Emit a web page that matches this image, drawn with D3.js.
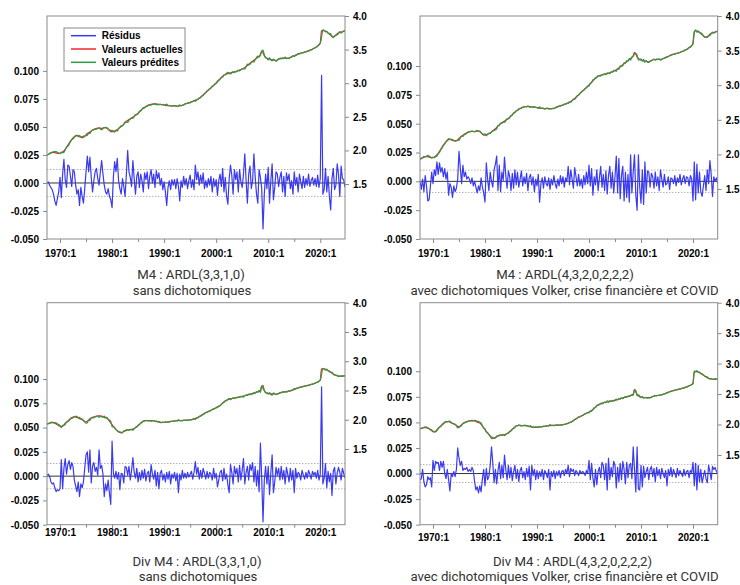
<!DOCTYPE html>
<html>
<head>
<meta charset="utf-8">
<script src="https://cdn.jsdelivr.net/npm/d3@7"></script>
<style>
  body { margin: 0; background: #ffffff; }
  svg { display: block; }
</style>
</head>
<body>
<svg id="chart" width="740" height="585"></svg>
<script>
// ---- Sample: quarterly, 1967Q3 .. 2024Q4 ----
const firstYear = 1967;
const firstQuarter = 3;

// Axis ticks and labels
const yearTicks = [1970, 1980, 1990, 2000, 2010, 2020];
const yearTickLabels = ["1970:1", "1980:1", "1990:1", "2000:1", "2010:1", "2020:1"];
const yearMinorTicks = [1975, 1985, 1995, 2005, 2015];
const residTicks = [-0.05, -0.025, 0, 0.025, 0.05, 0.075, 0.1];
const levelTicks = [1.5, 2.0, 2.5, 3.0, 3.5, 4.0];

// Actual values, M4 (log level)
const m4Actual = [
  1.930, 1.940,
  1.952, 1.962, 1.968, 1.970,  1.968, 1.962, 1.958, 1.955,
  1.956, 1.962, 1.975, 1.992,  2.015, 2.045, 2.075, 2.105,
  2.135, 2.160, 2.185, 2.205,  2.215, 2.218, 2.212, 2.202,
  2.198, 2.192, 2.195, 2.210,  2.230, 2.250, 2.262, 2.275,
  2.290, 2.300, 2.312, 2.322,  2.328, 2.330, 2.335, 2.330,
  2.328, 2.332, 2.338, 2.335,  2.330, 2.315, 2.295, 2.280,
  2.278, 2.285, 2.292, 2.300,  2.310, 2.325, 2.340, 2.355,
  2.370, 2.390, 2.410, 2.430,  2.445, 2.458, 2.470, 2.482,
  2.495, 2.508, 2.522, 2.538,  2.555, 2.575, 2.595, 2.612,
  2.628, 2.640, 2.655, 2.665,  2.672, 2.680, 2.686, 2.690,
  2.692, 2.693, 2.690, 2.688,  2.686, 2.684, 2.682, 2.680,
  2.676, 2.672, 2.668, 2.665,  2.668, 2.662, 2.660, 2.663,
  2.665, 2.660, 2.658, 2.661,  2.663, 2.666, 2.672, 2.680,
  2.690, 2.698, 2.703, 2.708,  2.715, 2.722, 2.730, 2.738,
  2.746, 2.755, 2.765, 2.778,  2.792, 2.808, 2.825, 2.843,
  2.862, 2.880, 2.898, 2.915,  2.932, 2.950, 2.968, 2.985,
  3.002, 3.022, 3.045, 3.065,  3.085, 3.102, 3.118, 3.130,
  3.138, 3.144, 3.150, 3.155,  3.160, 3.163, 3.168, 3.175,
  3.180, 3.187, 3.195, 3.203,  3.212, 3.222, 3.235, 3.250,
  3.265, 3.280, 3.295, 3.310,  3.325, 3.340, 3.355, 3.370,
  3.385, 3.400, 3.425, 3.475,  3.450, 3.410, 3.385, 3.370,
  3.362, 3.358, 3.352, 3.348,  3.345, 3.340, 3.338, 3.345,
  3.358, 3.368, 3.372, 3.370,  3.372, 3.375, 3.373, 3.372,
  3.375, 3.382, 3.392, 3.400,  3.408, 3.415, 3.425, 3.435,
  3.442, 3.448, 3.452, 3.458,  3.462, 3.468, 3.475, 3.482,
  3.490, 3.498, 3.508, 3.518,  3.528, 3.540, 3.555, 3.572,
  3.600, 3.780, 3.785, 3.780,  3.775, 3.765, 3.748, 3.730,
  3.712, 3.698, 3.692, 3.698,  3.715, 3.735, 3.750, 3.755,
  3.760, 3.768, 3.775, 3.782
];

// Actual values, Div M4 (log level)
const divM4Actual = [
  1.927, 1.935,
  1.942, 1.948, 1.950, 1.946,  1.940, 1.930, 1.915, 1.900,
  1.890, 1.882, 1.890, 1.910,  1.940, 1.958, 1.978, 2.000,
  2.020, 2.035, 2.045, 2.048,  2.046, 2.040, 2.030, 2.018,
  2.010, 2.000, 1.985, 1.970,  1.965, 1.975, 1.995, 2.015,
  2.030, 2.040, 2.048, 2.055,  2.060, 2.064, 2.066, 2.064,
  2.060, 2.050, 2.040, 2.032,  2.025, 2.005, 1.975, 1.945,
  1.915, 1.885, 1.860, 1.835,  1.812, 1.795, 1.782, 1.778,
  1.785, 1.800, 1.815, 1.825,  1.826, 1.828, 1.832, 1.835,
  1.840, 1.850, 1.865, 1.882,  1.900, 1.920, 1.940, 1.960,
  1.975, 1.983, 1.986, 1.985,  1.983, 1.982, 1.984, 1.983,
  1.980, 1.976, 1.970, 1.965,  1.960, 1.957, 1.955, 1.955,
  1.956, 1.958, 1.960, 1.962,  1.965, 1.968, 1.972, 1.975,
  1.978, 1.982, 1.984, 1.985,  1.985, 1.984, 1.986, 1.990,
  1.992, 1.990, 1.992, 1.995,  1.998, 2.002, 2.008, 2.015,
  2.022, 2.030, 2.040, 2.052,  2.066, 2.080, 2.095, 2.108,
  2.120, 2.130, 2.140, 2.150,  2.162, 2.175, 2.185, 2.195,
  2.205, 2.215, 2.228, 2.245,  2.265, 2.285, 2.305, 2.320,
  2.332, 2.342, 2.350, 2.356,  2.362, 2.368, 2.372, 2.378,
  2.382, 2.385, 2.390, 2.395,  2.400, 2.405, 2.410, 2.418,
  2.425, 2.432, 2.438, 2.445,  2.450, 2.456, 2.462, 2.470,
  2.478, 2.485, 2.500, 2.575,  2.540, 2.495, 2.470, 2.455,
  2.448, 2.445, 2.440, 2.440,  2.442, 2.440, 2.438, 2.442,
  2.450, 2.460, 2.468, 2.472,  2.475, 2.478, 2.480, 2.485,
  2.490, 2.495, 2.502, 2.510,  2.518, 2.528, 2.538, 2.545,
  2.552, 2.558, 2.564, 2.570,  2.575, 2.580, 2.585, 2.590,
  2.596, 2.602, 2.610, 2.618,  2.625, 2.635, 2.645, 2.658,
  2.680, 2.870, 2.872, 2.868,  2.862, 2.852, 2.840, 2.825,
  2.810, 2.795, 2.782, 2.770,  2.760, 2.752, 2.748, 2.746,
  2.746, 2.748, 2.750, 2.752
];

// Residuals, M4 : ARDL(3,3,1,0)
const residM4 = [
  .000, .001,
  -.002, -.004, -.006, -.010,  -.016, -.020, -.014, -.008,
  .005, -.013, .008, .021,  .003, -.004, .016, .015,
  .006, -.003, .012, .010,  -.002, -.010, -.006, -.020,
  -.004, -.012, -.018, -.005,  .010, .024, .010, .023,
  .005, -.008, .002, .010,  .013, .004, -.002, .010,
  .020, .008, -.002, -.008,  -.010, -.005, -.012, -.015,
  -.022, .005, .019, .010,  .022, .002, -.005, -.010,
  .004, -.003, -.012, .008,  .029, .010, .005, -.003,
  .020, .004, -.010, .006,  .010, -.004, .008, .002,
  -.008, .009, .003, .010,  -.005, .006, .012, .000,
  .008, -.004, .011, .004,  .009, -.002, .004, -.006,
  .001, -.008, -.020, -.004,  .002, -.006, .003, -.002,
  .003, -.005, .004, -.003,  -.016, .002, -.004, .006,
  -.002, .004, -.005, .002,  .007, -.004, .003, -.006,
  .016, .003, .010, -.002,  .007, .000, .009, -.005,
  .002, -.004, .004, -.002,  .006, -.008, .004, -.003,
  .003, -.011, .002, .008,  -.003, .013, -.008, .005,
  -.012, -.019, .004, .016,  .007, -.010, .012, .003,
  .010, -.008, .012, .001,  -.004, .008, .026, .002,
  -.018, .008, .015, -.005,  .002, .026, .005, -.010,
  -.018, .012, .005, -.005,  -.041, -.010, .008, -.005,
  .014, -.018, .002, .017,  -.015, -.004, .010, .008,
  -.003, .005, .010, -.008,  .006, -.012, .009, .002,
  .008, -.005, .002, -.010,  .010, -.002, .005, -.008,
  .008, .001, -.005, .006,  -.004, .004, -.002, .008,
  -.003, .002, .005, -.002,  .004, -.003, .007, -.004,
  .004, .096, -.010, -.006,  .013, -.008, .006, -.012,
  -.024, .004, .013, -.006,  -.002, .017, .008, -.012,
  .015, .004, .003, -.004
];

// Residuals, M4 : ARDL(4,3,2,0,2,2,2) with dummies
const residM4Dummies = [
  .000, -.007,
  .002, -.009, .005, -.004,  -.017, -.016, -.004, .008,
  -.002, .010, .005, .017,  .006, .016, .008, .012,
  .004, .011, .002, .008,  -.012, -.002, -.005, -.014,
  -.004, -.009, -.006, .002,  .026, .012, -.002, .014,
  .004, .008, .002, .004,  .002, -.002, .003, -.004,
  .000, -.005, -.010, -.004,  -.008, .003, -.005, -.010,
  -.018, .016, .002, -.008,  .008, .000, -.005, .010,
  .015, .022, -.008, .014,  -.009, .008, .001, .021,
  .005, -.006, .009, .004,  -.008, .007, -.006, .010,
  -.003, .008, -.005, .002,  .009, -.004, .004, -.002,
  .007, -.008, .003, .006,  -.003, .004, -.009, .002,
  -.004, .006, -.018, -.002,  .003, -.006, .004, -.002,
  -.004, .003, -.007, .002,  -.003, .005, -.002, -.006,
  .002, -.004, .005, -.002,  .004, -.005, .003, .000,
  .013, -.003, .010, .002,  -.006, .012, .004, -.004,
  .006, -.004, .002, -.006,  .005, -.003, .008, -.002,
  .014, -.004, .011, -.012,  .004, -.003, .010, -.008,
  .003, .013, -.005, .006,  -.008, .009, -.011, .005,
  .013, -.006, .008, -.010,  .004, .022, -.010, .020,
  -.015, .005, .013, -.017,  .008, -.014, .006, -.018,
  .023, -.010, .008, .023,  -.012, -.025, .023, -.005,
  -.019, .010, -.020, .017,  -.010, .009, .008, -.005,
  .007, .004, -.006, .008,  -.004, .004, -.008, .010,
  .002, -.005, .006, -.003,  -.002, .004, -.007, .003,
  .002, -.002, .005, -.004,  .003, -.001, .006, -.003,
  .002, .005, -.002, .004,  .003, -.004, .005, .002,
  -.017, .017, -.016, .015,  -.010, .008, -.009, -.013,
  -.004, .005, -.008, .010,  -.002, .018, .006, -.013,
  .004, .000, .003, -.002
];

// Residuals, Div M4 : ARDL(3,3,1,0)
const residDivM4 = [
  .001, .002,
  .000, -.006, -.008, -.007,  -.012, -.016, -.014, -.015,
  -.013, .017, -.013, .008,  .018, .002, .012, .016,
  .007, .014, .010, -.004,  -.010, -.016, -.006, -.021,
  -.008, -.012, -.006, .008,  .022, .025, .004, .027,
  -.007, .010, .014, .005,  .009, .001, .027, .008,
  .011, .002, -.021, -.008,  -.015, -.004, -.018, -.029,
  .036, .003, -.002, .005,  -.003, .004, -.014, .003,
  .002, -.007, .010, .009,  .001, .010, -.004, .006,
  .019, .004, -.002, .008,  -.006, .004, -.004, .006,
  -.002, .007, -.005, .003,  .005, -.006, .012, .002,
  -.003, .006, -.010, .004,  -.013, .003, .006, -.004,
  .002, -.006, .004, -.003,  .005, -.008, .002, -.002,
  .004, -.005, .003, -.017,  .002, -.004, .006, -.002,
  .003, -.002, .004, -.001,  .002, .005, -.003, .004,
  .015, .002, .009, -.003,  .006, -.002, .008, .003,
  -.003, .005, -.002, .004,  .002, -.004, .008, -.002,
  .003, -.011, -.004, .004,  .006, -.005, .008, -.003,
  .002, -.009, -.017, .012,  .004, -.008, .010, .002,
  .008, -.006, .011, -.004,  .006, .018, -.008, .004,
  .010, -.004, .012, .006,  .014, -.006, .010, -.010,
  .006, -.016, .034, -.002,  -.047, -.004, .010, -.008,
  .010, -.019, .003, .022,  -.017, -.006, .009, .001,
  .008, -.004, .010, -.003,  .006, -.008, .009, .002,
  -.006, .008, -.004, .006,  -.017, .008, -.002, .004,
  .002, -.004, .006, .001,  -.003, .004, -.002, .006,
  .002, -.003, .005, .001,  .004, -.002, .006, -.004,
  .002, .092, -.008, -.002,  .013, -.012, .005, -.006,
  .003, -.020, .005, .009,  -.008, .003, .009, .004,
  -.004, .008, .003, -.002
];

// Residuals, Div M4 : ARDL(4,3,2,0,2,2,2) with dummies
const residDivM4Dummies = [
  -.006, -.005,
  .004, -.008, -.013, -.011,  -.003, -.006, -.004, -.013,
  .013, .003, .012, .010,  .011, .003, .012, .006,
  .012, .000, -.005, .004,  -.006, -.017, .000, -.003,
  .002, -.003, .004, .025,  .015, .008, .012, .003,
  .005, .004, .006, .002,  .004, .002, .006, .003,
  -.008, -.016, -.013, -.019,  -.012, -.018, -.005, .004,
  -.012, .005, -.006, -.003,  .008, .026, .010, -.009,
  .004, -.010, .003, .011,  -.005, .008, -.004, .018,
  .004, -.006, .008, -.004,  .006, -.007, .002, .008,
  -.005, .004, -.008, .003,  .006, -.004, .002, -.006,
  .005, -.003, .007, -.016,  .008, -.002, .004, -.006,
  .003, -.005, .002, -.003,  .004, -.006, .003, .000,
  -.004, .004, -.016, .002,  -.003, .003, -.005, .002,
  -.002, .003, -.004, .002,  .003, -.002, .004, .000,
  .008, -.003, .005, .002,  .004, -.002, .003, .001,
  -.002, .003, .000, .002,  .001, -.002, .003, .000,
  .013, -.006, .010, -.004,  -.013, .004, -.011, .002,
  .006, -.004, .011, .008,  -.006, .010, -.016, .015,
  -.006, .006, -.003, .012,  .008, -.014, .006, -.008,
  .010, -.006, .012, .004,  -.010, .011, -.004, .008,
  .010, -.005, .026, .004,  -.018, .026, -.015, -.016,
  .008, -.013, .007, -.004,  .002, .006, -.006, .004,
  .007, -.003, .005, -.008,  .006, -.002, .004, -.005,
  .005, .000, -.004, .003,  -.012, .004, -.002, .006,
  -.003, .004, .000, -.004,  .005, -.002, .003, .000,
  -.003, .004, -.002, .002,  .003, -.004, .003, .001,
  .011, -.012, .010, -.016,  .008, -.008, .004, -.009,
  -.003, .003, -.005, -.009,  .008, .002, -.006, .007,
  .004, .006, .002, .000
];

// Regression standard errors (dotted bands around zero)
const seBands = [0.012, 0.0097, 0.013, 0.0087];

const titles = [
  "M4 : ARDL(3,3,1,0)",
  "M4 : ARDL(4,3,2,0,2,2,2)",
  "Div M4 : ARDL(3,3,1,0)",
  "Div M4 : ARDL(4,3,2,0,2,2,2)"
];
const subtitles = [
  "sans dichotomiques",
  "avec dichotomiques Volker, crise financière et COVID",
  "sans dichotomiques",
  "avec dichotomiques Volker, crise financière et COVID"
];
const legendLabels = ["Résidus", "Valeurs actuelles", "Valeurs prédites"];

// ---- Styles ----
const colResid = "#3a3af2";
const colActual = "#ee2a2a";
const colFitted = "#2f9a45";
const colFrame = "#8a8a8a";
const tickFont = "bold 10px 'Liberation Sans', Arial, sans-serif";
const titleFont = "13.2px Roboto, 'Liberation Sans', sans-serif";

// ---- Panel layout ----
const panels = [
  { actual: m4Actual, resid: residM4, se: seBands[0], title: titles[0], sub: subtitles[0],
    x0: 47, x1: 345, y0: 16, y1: 239, residDomain: [-0.05, 0.149], levelDomain: [0.682, 4.0],
    labelY: 253.5, titleX: 191, subX: 192, titleY: 274, subY: 290, legend: true },
  { actual: m4Actual, resid: residM4Dummies, se: seBands[1], title: titles[1], sub: subtitles[1],
    x0: 420, x1: 717.7, y0: 16, y1: 239, residDomain: [-0.05, 0.1434], levelDomain: [0.778, 4.0],
    labelY: 253, titleX: 565, subX: 564.5, titleY: 274, subY: 290, legend: false },
  { actual: divM4Actual, resid: residDivM4, se: seBands[2], title: titles[2], sub: subtitles[2],
    x0: 47, x1: 345, y0: 302.7, y1: 524.7, residDomain: [-0.05, 0.1786], levelDomain: [0.206, 4.0],
    labelY: 532, titleX: 197, subX: 198, titleY: 561, subY: 576.5, legend: false },
  { actual: divM4Actual, resid: residDivM4Dummies, se: seBands[3], title: titles[3], sub: subtitles[3],
    x0: 420, x1: 717.7, y0: 302.7, y1: 524.7, residDomain: [-0.05, 0.167], levelDomain: [0.355, 4.0],
    labelY: 537, titleX: 572.5, subX: 564.5, titleY: 561, subY: 576.5, legend: false }
];

const svg = d3.select("#chart");
const timeOf = i => firstYear + (firstQuarter - 1) / 4 + i / 4;

panels.forEach((p, k) => {
  const n = p.actual.length;
  const x = d3.scaleLinear().domain([timeOf(0), timeOf(n - 1)]).range([p.x0, p.x1]);
  const yRes = d3.scaleLinear().domain(p.residDomain).range([p.y1, p.y0]);
  const yLev = d3.scaleLinear().domain(p.levelDomain).range([p.y1, p.y0]);

  const rows = p.actual.map((a, i) => ({
    t: timeOf(i), actual: a, resid: p.resid[i], fitted: a - p.resid[i]
  }));

  const g = svg.append("g").attr("class", "panel-" + k);

  const clipId = "clip-" + k;
  g.append("clipPath").attr("id", clipId)
    .append("rect").attr("x", p.x0).attr("y", p.y0)
    .attr("width", p.x1 - p.x0).attr("height", p.y1 - p.y0);

  const plot = g.append("g").attr("clip-path", `url(#${clipId})`);

  // +/- one standard error
  [p.se, -p.se].forEach(v => {
    plot.append("line")
      .attr("x1", p.x0).attr("x2", p.x1)
      .attr("y1", yRes(v)).attr("y2", yRes(v))
      .attr("stroke", "#b4b4b4").attr("stroke-width", 1)
      .attr("stroke-dasharray", "1.5,1.5");
  });
  // zero line
  plot.append("line")
    .attr("x1", p.x0).attr("x2", p.x1)
    .attr("y1", yRes(0)).attr("y2", yRes(0))
    .attr("stroke", "#333333").attr("stroke-width", 1);

  const residLine = d3.line().x(d => x(d.t)).y(d => yRes(d.resid));
  const actualLine = d3.line().x(d => x(d.t)).y(d => yLev(d.actual)).curve(d3.curveMonotoneX);
  const fittedLine = d3.line().x(d => x(d.t)).y(d => yLev(d.fitted)).curve(d3.curveMonotoneX);

  plot.append("path").datum(rows).attr("d", residLine)
    .attr("fill", "none").attr("stroke", colResid).attr("stroke-width", 1.2)
    .attr("stroke-linejoin", "round");
  plot.append("path").datum(rows).attr("d", actualLine)
    .attr("fill", "none").attr("stroke", colActual).attr("stroke-width", 1.3);
  plot.append("path").datum(rows).attr("d", fittedLine)
    .attr("fill", "none").attr("stroke", colFitted).attr("stroke-width", 1.2);

  // frame
  g.append("rect")
    .attr("x", p.x0).attr("y", p.y0)
    .attr("width", p.x1 - p.x0).attr("height", p.y1 - p.y0)
    .attr("fill", "none").attr("stroke", colFrame).attr("stroke-width", 1);

  // left axis: residuals
  const axL = g.append("g").attr("transform", `translate(${p.x0},0)`)
    .call(d3.axisLeft(yRes).tickValues(residTicks).tickFormat(d => d.toFixed(3))
      .tickSize(4).tickPadding(4));
  // right axis: levels
  const axR = g.append("g").attr("transform", `translate(${p.x1},0)`)
    .call(d3.axisRight(yLev).tickValues(levelTicks).tickFormat(d => d.toFixed(1))
      .tickSize(4).tickPadding(4));
  // bottom axis: dates
  const axB = g.append("g").attr("transform", `translate(0,${p.y1})`)
    .call(d3.axisBottom(x).tickValues(yearTicks)
      .tickFormat((d, i) => yearTickLabels[i]).tickSize(4).tickPadding(3));
  g.append("g").attr("transform", `translate(0,${p.y1})`)
    .call(d3.axisBottom(x).tickValues(yearMinorTicks).tickFormat("").tickSize(3))
    .call(a => a.select(".domain").remove())
    .selectAll("line").attr("stroke", colFrame);

  [axL, axR, axB].forEach(a => {
    a.select(".domain").remove();
    a.selectAll(".tick line").attr("stroke", colFrame);
    a.selectAll(".tick text").style("font", tickFont).attr("fill", "#000");
  });
  axB.selectAll(".tick text").attr("dy", null).attr("y", null)
    .attr("dominant-baseline", "central")
    .attr("transform", `translate(0,${p.labelY - p.y1})`);
  axL.selectAll(".tick text").attr("dy", "0.34em");
  axR.selectAll(".tick text").attr("dy", "0.34em");

  // titles
  g.append("text").attr("x", p.titleX).attr("y", p.titleY)
    .attr("text-anchor", "middle").attr("dominant-baseline", "central")
    .style("font", titleFont).attr("fill", "#333333").text(p.title);
  g.append("text").attr("x", p.subX).attr("y", p.subY)
    .attr("text-anchor", "middle").attr("dominant-baseline", "central")
    .style("font", titleFont).attr("fill", "#333333").text(p.sub);

  // legend
  if (p.legend) {
    const lg = g.append("g").attr("transform", "translate(64,28)");
    lg.append("rect").attr("width", 121).attr("height", 43)
      .attr("fill", "#ffffff").attr("stroke", colFrame).attr("stroke-width", 1);
    const cols = [colResid, colActual, colFitted];
    legendLabels.forEach((lab, j) => {
      const yy = 7.7 + j * 13.3;
      lg.append("line").attr("x1", 7).attr("x2", 32).attr("y1", yy).attr("y2", yy)
        .attr("stroke", cols[j]).attr("stroke-width", 1.5);
      lg.append("text").attr("x", 37.7).attr("y", yy).attr("dominant-baseline", "central")
        .style("font", tickFont).attr("fill", "#000").text(lab);
    });
  }
});
</script>
</body>
</html>
